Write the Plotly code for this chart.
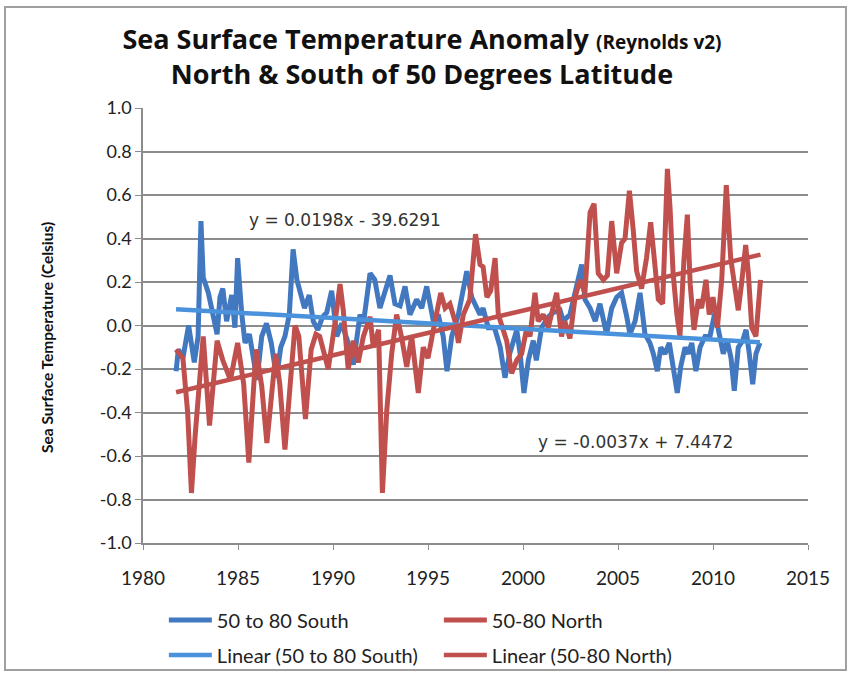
import numpy as np
import plotly.graph_objects as go

# 50 to 80 South: decimal year and anomaly (deg C)
south_year = [1981.74, 1981.86, 1982.10, 1982.40, 1982.70, 1982.90, 1983.05, 1983.17, 1983.44, 1983.66,
              1983.90, 1984.05, 1984.20, 1984.40, 1984.67, 1984.84, 1984.98, 1985.20, 1985.37, 1985.60,
              1986.00, 1986.25, 1986.50, 1986.75, 1987.03, 1987.25, 1987.47, 1987.70, 1987.90, 1988.10,
              1988.26, 1988.50, 1988.75, 1988.96, 1989.20, 1989.45, 1989.67, 1989.93, 1990.20, 1990.46,
              1990.80, 1991.07, 1991.42, 1991.60, 1991.95, 1992.20, 1992.47, 1992.74, 1993.00, 1993.26,
              1993.53, 1993.79, 1994.05, 1994.40, 1994.67, 1994.93, 1995.28, 1995.54, 1995.80, 1996.00,
              1996.25, 1996.60, 1997.04, 1997.30, 1997.56, 1997.74, 1997.90, 1998.17, 1998.50, 1998.80,
              1999.05, 1999.30, 1999.67, 1999.85, 2000.05, 2000.28, 2000.54, 2000.70, 2000.98, 2001.33,
              2001.60, 2001.95, 2002.12, 2002.47, 2002.98, 2003.09, 2003.26, 2003.53, 2003.80, 2004.05,
              2004.40, 2004.67, 2004.93, 2005.19, 2005.46, 2005.63, 2005.90, 2006.16, 2006.42, 2006.68,
              2006.86, 2007.07, 2007.25, 2007.47, 2007.70, 2007.90, 2008.12, 2008.30, 2008.53, 2008.70,
              2008.88, 2009.10, 2009.32, 2009.58, 2009.84, 2010.10, 2010.33, 2010.54, 2010.75, 2010.95,
              2011.12, 2011.33, 2011.56, 2011.74, 2011.91, 2012.09, 2012.26, 2012.47]
south_anom = [-0.21, -0.11, -0.15, 0.00, -0.17, -0.05, 0.48, 0.22, 0.15, 0.05,
              -0.04, 0.13, 0.17, 0.02, 0.14, -0.01, 0.31, 0.05, -0.08, -0.04,
              -0.25, -0.05, 0.01, -0.08, -0.24, -0.10, -0.05, 0.05, 0.35, 0.21,
              0.15, 0.08, 0.14, 0.02, -0.02, 0.04, 0.06, 0.16, -0.05, 0.01,
              -0.08, -0.18, 0.05, 0.01, 0.24, 0.21, 0.08, 0.16, 0.23, 0.10,
              0.09, 0.18, 0.05, 0.12, 0.08, 0.18, 0.02, 0.05, -0.05, -0.21,
              -0.05, 0.05, 0.25, 0.13, 0.08, 0.05, 0.08, -0.01, -0.01, -0.10,
              -0.24, -0.13, -0.02, -0.13, -0.31, -0.16, -0.07, -0.16, -0.01, 0.04,
              0.06, 0.07, 0.02, 0.05, 0.24, 0.28, 0.12, 0.08, 0.02, 0.10,
              -0.04, 0.08, 0.13, 0.15, 0.04, -0.04, 0.02, 0.15, -0.04, -0.08,
              -0.13, -0.21, -0.10, -0.13, -0.08, -0.19, -0.31, -0.19, -0.10, -0.13,
              -0.08, -0.21, -0.10, -0.05, -0.05, 0.06, -0.04, -0.13, -0.07, -0.15,
              -0.30, -0.10, -0.07, -0.02, -0.13, -0.27, -0.13, -0.08]

# 50-80 North: decimal year and anomaly (deg C)
north_year = [1981.74, 1981.95, 1982.10, 1982.35, 1982.55, 1982.75, 1982.90, 1983.17, 1983.50, 1983.90,
              1984.20, 1984.60, 1984.98, 1985.30, 1985.57, 1985.95, 1986.25, 1986.52, 1986.98, 1987.20,
              1987.47, 1987.75, 1988.00, 1988.20, 1988.55, 1988.85, 1989.10, 1989.30, 1989.75, 1990.10,
              1990.37, 1990.54, 1990.80, 1991.07, 1991.33, 1991.60, 1991.95, 1992.12, 1992.40, 1992.60,
              1992.83, 1993.09, 1993.35, 1993.60, 1993.88, 1994.14, 1994.49, 1994.75, 1995.00, 1995.37,
              1995.67, 1995.90, 1996.15, 1996.42, 1996.60, 1996.86, 1997.20, 1997.50, 1997.74, 1997.90,
              1998.10, 1998.30, 1998.53, 1998.70, 1998.96, 1999.14, 1999.40, 1999.67, 1999.93, 2000.20,
              2000.37, 2000.63, 2000.80, 2001.07, 2001.33, 2001.77, 2002.03, 2002.20, 2002.47, 2002.74,
              2003.00, 2003.26, 2003.53, 2003.74, 2003.96, 2004.23, 2004.44, 2004.67, 2004.93, 2005.19,
              2005.37, 2005.60, 2005.80, 2005.98, 2006.24, 2006.50, 2006.72, 2006.95, 2007.12, 2007.35,
              2007.60, 2007.74, 2007.90, 2008.10, 2008.26, 2008.47, 2008.65, 2008.80, 2009.00, 2009.23,
              2009.40, 2009.63, 2009.80, 2010.00, 2010.23, 2010.46, 2010.70, 2010.93, 2011.15, 2011.33,
              2011.50, 2011.72, 2011.86, 2012.04, 2012.26, 2012.50]
north_anom = [-0.11, -0.13, -0.15, -0.40, -0.77, -0.50, -0.31, -0.05, -0.46, -0.07,
              -0.16, -0.25, -0.08, -0.27, -0.63, -0.11, -0.28, -0.54, -0.13, -0.27,
              -0.57, -0.25, 0.00, -0.05, -0.43, -0.11, -0.04, -0.05, -0.20, 0.01,
              0.19, 0.07, -0.20, -0.07, -0.17, -0.05, 0.04, -0.10, -0.02, -0.77,
              -0.39, -0.13, 0.05, -0.05, -0.19, -0.05, -0.31, -0.10, -0.15, 0.02,
              0.15, 0.08, 0.10, 0.02, -0.08, 0.05, 0.12, 0.42, 0.28, 0.27,
              0.13, 0.16, 0.31, 0.05, -0.02, -0.07, -0.22, -0.16, -0.13, -0.01,
              -0.05, 0.15, 0.02, 0.05, -0.01, 0.15, -0.05, 0.02, -0.06, 0.13,
              0.21, 0.15, 0.52, 0.56, 0.24, 0.21, 0.23, 0.48, 0.24, 0.38,
              0.40, 0.62, 0.44, 0.25, 0.17, 0.31, 0.475, 0.24, 0.12, 0.10,
              0.72, 0.54, 0.24, 0.05, -0.05, 0.30, 0.51, 0.19, -0.02, 0.12,
              0.08, 0.21, 0.05, 0.13, -0.01, 0.21, 0.645, 0.31, 0.16, 0.07,
              0.19, 0.37, 0.24, -0.01, -0.05, 0.21]

x_ticks = [1980, 1985, 1990, 1995, 2000, 2005, 2010, 2015]
y_ticks = [-1.0, -0.8, -0.6, -0.4, -0.2, 0.0, 0.2, 0.4, 0.6, 0.8, 1.0]
y_tick_text = ["-1.0", "-0.8", "-0.6", "-0.4", "-0.2", "0.0", "0.2", "0.4", "0.6", "0.8", "1.0"]
eq_north = "y = 0.0198x - 39.6291"
eq_south = "y = -0.0037x + 7.4472"

BLUE = "#4178c0"
BLUE_TREND = "#4a92dc"
RED = "#c0504d"
GRID = "#8c8c8c"


def linear_fit(xs, ys):
    xs = np.asarray(xs, dtype=float)
    ys = np.asarray(ys, dtype=float)
    slope, intercept = np.polyfit(xs, ys, 1)
    ends = np.array([xs.min(), xs.max()])
    return ends, slope * ends + intercept


s_tx, s_ty = linear_fit(south_year, south_anom)
n_tx, n_ty = linear_fit(north_year, north_anom)

fig = go.Figure()
fig.add_trace(go.Scatter(x=south_year, y=south_anom, mode="lines", name="50 to 80 South",
                         line=dict(color=BLUE, width=5), legend="legend"))
fig.add_trace(go.Scatter(x=north_year, y=north_anom, mode="lines", name="50-80 North",
                         line=dict(color=RED, width=5), legend="legend"))
fig.add_trace(go.Scatter(x=s_tx, y=s_ty, mode="lines", name="Linear (50 to 80 South)",
                         line=dict(color=BLUE_TREND, width=4.5), legend="legend2"))
fig.add_trace(go.Scatter(x=n_tx, y=n_ty, mode="lines", name="Linear (50-80 North)",
                         line=dict(color=RED, width=4.5), legend="legend2"))

legend_common = dict(orientation="h", xref="container", yref="container",
                     x=0.193, xanchor="left", yanchor="middle", itemwidth=43,
                     font=dict(family="Lato", size=20, color="#222"),
                     entrywidth=217, entrywidthmode="pixels", bgcolor="rgba(0,0,0,0)")

fig.update_layout(
    width=849, height=673,
    margin=dict(l=143, r=41, t=108, b=130, autoexpand=False),
    paper_bgcolor="white", plot_bgcolor="white",
    title=dict(
        text="<b>Sea Surface Temperature Anomaly <span style='font-size:19px'>(Reynolds v2)</span></b>"
             "<br><b>North &amp; South of 50 Degrees Latitude</b>",
        x=0.497, xref="container", xanchor="center", y=0.927, yanchor="middle",
        font=dict(family="Open Sans", size=27, color="#111"),
    ),
    xaxis=dict(range=[1980, 2015], tickvals=x_ticks, ticktext=[str(v) for v in x_ticks],
               showgrid=False, zeroline=False, showline=True, linecolor=GRID, linewidth=1.5,
               ticks="outside", ticklen=5, tickcolor=GRID, ticklabelstandoff=12,
               tickfont=dict(family="Lato", size=19, color="#222")),
    yaxis=dict(range=[-1.0, 1.0], tickvals=y_ticks, ticktext=y_tick_text,
               showgrid=True, gridcolor=GRID, gridwidth=1.5, zeroline=False,
               showline=True, linecolor=GRID, linewidth=1.5,
               ticks="outside", ticklen=6, tickcolor=GRID,
               tickfont=dict(family="Lato", size=18, color="#222")),
    legend=dict(y=0.0788, **legend_common),
    legend2=dict(y=0.0267, **legend_common),
    shapes=[dict(type="rect", xref="paper", yref="paper", x0=-0.2075, x1=1.0571, y0=-0.292, y1=1.232,
                 line=dict(color="#a0a0a0", width=2), fillcolor="rgba(0,0,0,0)", layer="below")],
    annotations=[
        dict(x=47 / 849, y=(673 - 338) / 673, xref="paper", yref="paper", xanchor="center", yanchor="middle",
             text="<b>Sea Surface Temperature (Celsius)</b>", textangle=-90, showarrow=False,
             font=dict(family="Lato", size=15.5, color="#111")),
        dict(x=1990.63, y=0.483, xref="x", yref="y", text=eq_north, showarrow=False,
             font=dict(family="DejaVu Sans", size=17, color="#333"), bgcolor="rgba(255,255,255,0.85)"),
        dict(x=2005.9, y=-0.537, xref="x", yref="y", text=eq_south, showarrow=False,
             font=dict(family="DejaVu Sans", size=17, color="#333"), bgcolor="rgba(255,255,255,0.85)"),
    ],
)

# the axis-title annotation is positioned in pixels, so express it relative to the plot area
plot_l, plot_b, plot_w, plot_h = 143, 130, 849 - 143 - 41, 673 - 108 - 130
ann = fig.layout.annotations[0]
ann.x = (47 - plot_l) / plot_w
ann.y = ((673 - 338) - plot_b) / plot_h

fig.write_html("out.html")
